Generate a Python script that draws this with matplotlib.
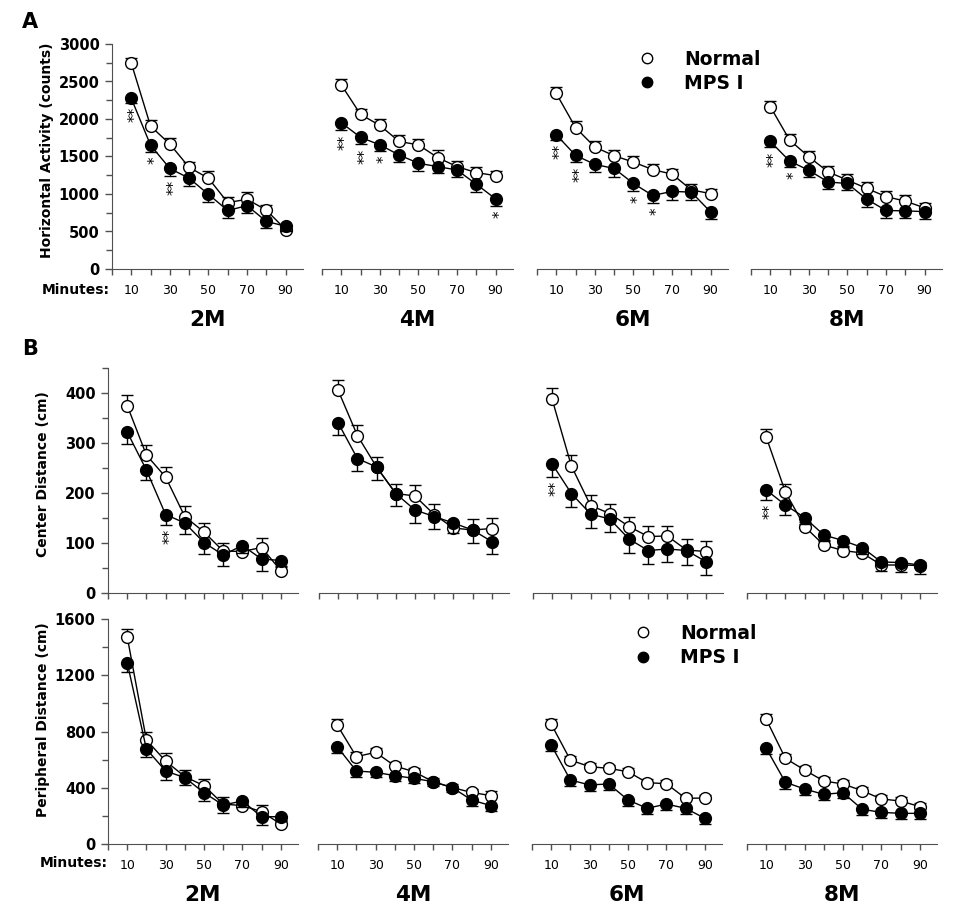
import numpy as np
import matplotlib.pyplot as plt
from matplotlib.lines import Line2D
from matplotlib.ticker import MultipleLocator

minutes = [10, 20, 30, 40, 50, 60, 70, 80, 90]
ages = ['2M', '4M', '6M', '8M']
labelled_minutes = [10, 30, 50, 70, 90]

# A: horizontal activity (counts), one list per age
horiz_normal = [
    [2745, 1905, 1665, 1355, 1210, 885, 930, 785, 525],
    [2455, 2060, 1915, 1700, 1655, 1485, 1365, 1285, 1245],
    [2340, 1885, 1625, 1510, 1425, 1325, 1265, 1055, 1005],
    [2165, 1720, 1495, 1295, 1185, 1075, 965, 905, 815],
]
horiz_normal_err = [
    [70, 80, 80, 70, 90, 70, 90, 70, 60],
    [80, 70, 80, 80, 80, 100, 80, 70, 60],
    [90, 90, 80, 80, 80, 80, 70, 80, 60],
    [80, 80, 80, 80, 80, 80, 80, 80, 70],
]
horiz_mps = [
    [2275, 1650, 1340, 1210, 995, 780, 845, 635, 570],
    [1950, 1755, 1655, 1520, 1410, 1365, 1320, 1130, 935],
    [1790, 1515, 1395, 1340, 1140, 980, 1035, 1025, 760],
    [1700, 1440, 1315, 1160, 1140, 930, 780, 775, 765],
]
horiz_mps_err = [
    [60, 90, 100, 100, 100, 100, 100, 90, 60],
    [100, 90, 80, 100, 100, 90, 100, 100, 100],
    [70, 90, 100, 110, 100, 100, 110, 110, 100],
    [80, 80, 90, 100, 90, 100, 100, 100, 100],
]
horiz_stars = [
    [(10, '**'), (20, '*'), (30, '**')],
    [(10, '**'), (20, '**'), (30, '*'), (90, '*')],
    [(10, '**'), (20, '**'), (50, '*'), (60, '*')],
    [(10, '**'), (20, '*')],
]

# B (top): center distance (cm)
center_normal = [
    [375, 276, 232, 153, 122, 84, 83, 91, 45],
    [405, 315, 252, 199, 194, 157, 130, 126, 129],
    [387, 254, 175, 159, 133, 113, 114, 86, 83],
    [312, 202, 133, 96, 85, 80, 56, 56, 55],
]
center_normal_err = [
    [21, 20, 20, 22, 18, 17, 10, 19, 8],
    [21, 22, 20, 20, 22, 22, 12, 22, 22],
    [22, 22, 22, 20, 20, 21, 21, 22, 22],
    [17, 17, 10, 10, 10, 10, 10, 8, 8],
]
center_mps = [
    [322, 246, 157, 140, 101, 76, 95, 68, 65],
    [340, 269, 252, 199, 166, 153, 140, 126, 103],
    [258, 199, 158, 148, 108, 85, 88, 85, 63],
    [206, 176, 151, 116, 105, 91, 62, 61, 56],
]
center_mps_err = [
    [23, 20, 20, 22, 23, 21, 15, 23, 10],
    [24, 25, 26, 25, 25, 25, 20, 25, 25],
    [25, 27, 27, 26, 27, 27, 25, 29, 27],
    [20, 20, 12, 12, 12, 12, 18, 18, 18],
]
center_stars = [
    [(30, '**')],
    [],
    [(10, '**')],
    [(10, '**')],
]

# B (bottom): peripheral distance (cm)
periph_normal = [
    [1475, 740, 590, 479, 415, 284, 273, 230, 142],
    [846, 621, 652, 555, 514, 443, 401, 367, 344],
    [853, 597, 550, 538, 514, 436, 429, 325, 327],
    [887, 609, 526, 448, 427, 379, 320, 306, 266],
]
periph_normal_err = [
    [55, 60, 60, 50, 50, 50, 40, 50, 30],
    [40, 30, 30, 30, 30, 25, 25, 25, 30],
    [35, 30, 25, 25, 25, 25, 25, 25, 25],
    [35, 30, 30, 25, 25, 25, 25, 25, 25],
]
periph_mps = [
    [1290, 676, 519, 472, 365, 277, 306, 194, 194],
    [692, 519, 510, 486, 467, 443, 401, 313, 273],
    [704, 455, 420, 427, 313, 254, 284, 254, 183],
    [681, 439, 391, 353, 365, 247, 225, 218, 218],
]
periph_mps_err = [
    [64, 60, 65, 50, 60, 60, 40, 60, 30],
    [45, 40, 30, 35, 35, 30, 30, 40, 40],
    [40, 40, 40, 40, 40, 40, 40, 40, 40],
    [40, 45, 40, 40, 40, 40, 40, 40, 40],
]
periph_stars = [[], [], [], []]

W, H = 967, 921
fig = plt.figure(figsize=(W / 100, H / 100), dpi=100)
spine_col = '#505050'


def add_px_axes(left, top, width, height):
    return fig.add_axes([left / W, 1 - (top + height) / H, width / W, height / H])


def draw_panel(ax, normal, n_err, mps, m_err, stars):
    z = np.zeros(len(minutes))
    ax.errorbar(minutes, normal, yerr=[z, n_err], fmt='-o', color='black', lw=1,
                ms=8.5, mfc='white', mec='black', mew=1, ecolor='black',
                elinewidth=1, capsize=4, capthick=1, zorder=3)
    ax.errorbar(minutes, mps, yerr=[m_err, z], fmt='-o', color='black', lw=1,
                ms=8.5, mfc='black', mec='black', mew=1, ecolor='black',
                elinewidth=1, capsize=4, capthick=1, zorder=4)
    for x, s in stars:
        i = minutes.index(x)
        ax.annotate(s, xy=(x, mps[i] - m_err[i]), xytext=(3, -3),
                    textcoords='offset points', ha='center', va='top',
                    rotation=90, fontsize=11)


rows = [
    dict(top=44, lefts=[112, 322, 537, 751], width=191, ymax=3000, major=500, minor=250,
         n=horiz_normal, ne=horiz_normal_err, m=horiz_mps, me=horiz_mps_err,
         stars=horiz_stars, xlabels=True, ylabel='Horizontal Activity (counts)', ylab_pos=(47, 150)),
    dict(top=368, lefts=[108, 319, 533, 747], width=190, ymax=450, major=100, minor=50,
         n=center_normal, ne=center_normal_err, m=center_mps, me=center_mps_err,
         stars=center_stars, xlabels=False, ylabel='Center Distance (cm)', ylab_pos=(43, 474)),
    dict(top=619, lefts=[108, 318, 532, 747], width=190, ymax=1600, major=400, minor=200,
         n=periph_normal, ne=periph_normal_err, m=periph_mps, me=periph_mps_err,
         stars=periph_stars, xlabels=True, ylabel='Peripheral Distance (cm)', ylab_pos=(43, 720)),
]

for r in rows:
    for k, age in enumerate(ages):
        ax = add_px_axes(r['lefts'][k], r['top'], r['width'], 225)
        draw_panel(ax, r['n'][k], r['ne'][k], r['m'][k], r['me'][k], r['stars'][k])
        ax.set_xlim(0, 99)
        ax.set_ylim(0, r['ymax'])
        for s in ['top', 'right']:
            ax.spines[s].set_visible(False)
        ax.spines['bottom'].set_color(spine_col)
        ax.spines['left'].set_color(spine_col)
        ax.set_xticks(range(0, 91, 10))
        if r['xlabels']:
            ax.set_xticklabels([str(m) if m in labelled_minutes else '' for m in range(0, 91, 10)],
                               fontsize=9)
        else:
            ax.set_xticklabels([])
        ax.tick_params(axis='x', direction='out', length=4, width=1, color=spine_col, pad=7)
        if k == 0:
            yt = np.arange(0, r['ymax'] + 1, r['major'])
            ax.set_yticks(yt)
            ax.set_yticklabels([str(int(v)) for v in yt], fontweight='bold', fontsize=10.5)
            ax.yaxis.set_minor_locator(MultipleLocator(r['minor']))
            ax.tick_params(axis='y', which='major', direction='out', length=5, width=1,
                           color=spine_col, pad=4)
            ax.tick_params(axis='y', which='minor', direction='out', length=4, width=1,
                           color=spine_col)
            fig.text(r['ylab_pos'][0] / W, 1 - r['ylab_pos'][1] / H, r['ylabel'],
                     rotation=90, ha='center', va='center', fontsize=10, fontweight='bold')
        else:
            ax.spines['left'].set_visible(False)
            ax.tick_params(axis='y', which='both', left=False, labelleft=False)

# Minutes labels and age titles
fig.text(110 / W, 1 - 290 / H, 'Minutes:', ha='right', va='center', fontsize=10, fontweight='bold')
fig.text(108 / W, 1 - 863 / H, 'Minutes:', ha='right', va='center', fontsize=10, fontweight='bold')
for k, age in enumerate(ages):
    cxa = rows[0]['lefts'][k] + rows[0]['width'] / 2
    cxc = rows[2]['lefts'][k] + rows[2]['width'] / 2
    fig.text(cxa / W, 1 - 320 / H, age, ha='center', va='center', fontsize=15.5, fontweight='bold')
    fig.text(cxc / W, 1 - 895 / H, age, ha='center', va='center', fontsize=15.5, fontweight='bold')

fig.text(30 / W, 1 - 22 / H, 'A', ha='center', va='center', fontsize=15, fontweight='bold')
fig.text(30 / W, 1 - 349 / H, 'B', ha='center', va='center', fontsize=15, fontweight='bold')

handles = [
    Line2D([], [], marker='o', ls='none', ms=7.5, mfc='white', mec='black', mew=1),
    Line2D([], [], marker='o', ls='none', ms=7.5, mfc='black', mec='black', mew=1),
]
for (x0, y0) in [(628, 50), (624, 624)]:
    fig.legend(handles, ['Normal', 'MPS I'], loc='upper left',
               bbox_to_anchor=(x0 / W, 1 - y0 / H), frameon=False, borderpad=0,
               borderaxespad=0, handlelength=2, handletextpad=1.0, labelspacing=0.27,
               prop={'size': 13.5, 'weight': 'bold'})

fig.savefig('out.png', dpi=100)
